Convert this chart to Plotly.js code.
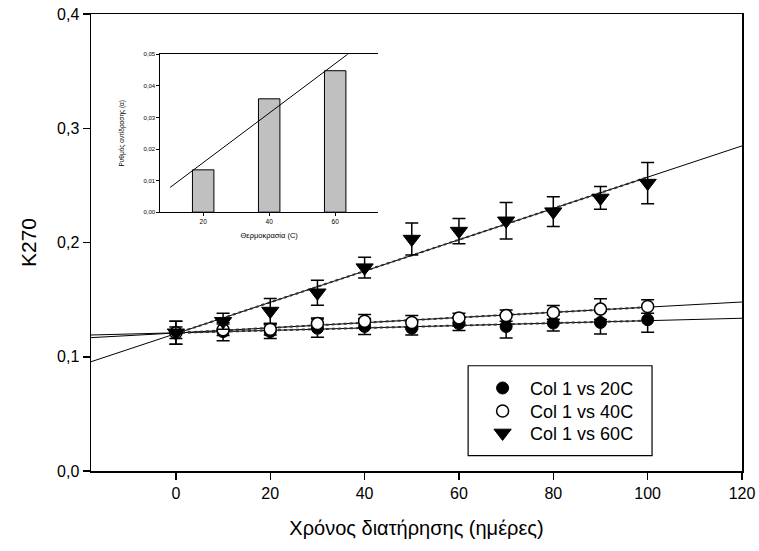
<!DOCTYPE html>
<html>
<head>
<meta charset="utf-8">
<script src="https://cdn.plot.ly/plotly-3.0.1.min.js"></script>
<style>html,body{margin:0;padding:0;background:#fff}#chart{width:759px;height:551px}</style>
</head>
<body>
<div id="chart"></div>
<script>
// ---- data ----
const days = [0, 10, 20, 30, 40, 50, 60, 70, 80, 90, 100];
const k20 = [0.121, 0.122, 0.122, 0.125, 0.1265, 0.125, 0.129, 0.1265, 0.1295, 0.130, 0.1324];
const err20 = [0.010, 0.008, 0.006, 0.008, 0.007, 0.006, 0.006, 0.010, 0.007, 0.010, 0.011];
const k40 = [0.121, 0.1236, 0.124, 0.129, 0.131, 0.130, 0.134, 0.136, 0.1388, 0.1417, 0.144];
const err40 = [0.005, 0.005, 0.005, 0.005, 0.006, 0.006, 0.004, 0.005, 0.006, 0.009, 0.006];
const k60 = [0.121, 0.131, 0.140, 0.156, 0.178, 0.203, 0.210, 0.219, 0.227, 0.239, 0.252];
const err60 = [0.010, 0.007, 0.011, 0.011, 0.009, 0.014, 0.011, 0.016, 0.013, 0.010, 0.018];
const seriesNames = ["Col 1 vs 20C", "Col 1 vs 40C", "Col 1 vs 60C"];
const fitExtent = [-18, 120];

const insetTemps = [20, 40, 60];
const insetRates = [0.0134, 0.0359, 0.0448];
const insetFitExtent = [10, 70];

const xTicks = [0, 20, 40, 60, 80, 100, 120];
const yTicks = [0, 0.1, 0.2, 0.3, 0.4];
const insetYTicks = [0, 0.01, 0.02, 0.03, 0.04, 0.05];

// ---- helpers ----
function linFit(x, y) {
  const n = x.length;
  const mx = x.reduce((a, b) => a + b, 0) / n;
  const my = y.reduce((a, b) => a + b, 0) / n;
  let sxy = 0, sxx = 0;
  for (let i = 0; i < n; i++) { sxy += (x[i] - mx) * (y[i] - my); sxx += (x[i] - mx) ** 2; }
  const b = sxy / sxx;
  return { a: my - b * mx, b };
}
function originFit(x, y) {
  let sxy = 0, sxx = 0;
  for (let i = 0; i < x.length; i++) { sxy += x[i] * y[i]; sxx += x[i] * x[i]; }
  return sxy / sxx;
}

const FONT = "Liberation Sans, Arial, sans-serif";
const traces = [];
const allY = [k20, k40, k60];
const dataRange = [days[0], days[days.length - 1]];
allY.forEach(ys => {
  const f = linFit(days, ys);
  traces.push({
    x: fitExtent, y: fitExtent.map(x => f.a + f.b * x),
    mode: "lines", line: { color: "black", width: 1 }, showlegend: false, hoverinfo: "skip",
    xaxis: "x", yaxis: "y"
  });
  traces.push({
    x: dataRange, y: dataRange.map(x => f.a + f.b * x),
    mode: "lines", line: { color: "#333", width: 2, dash: "dot" }, showlegend: false, hoverinfo: "skip",
    xaxis: "x", yaxis: "y"
  });
});

const errStyle = { type: "data", color: "black", thickness: 1.5, width: 6.5, visible: true };
traces.push({
  x: days, y: k20, name: seriesNames[0], mode: "markers", legend: "legend",
  marker: { symbol: "circle", size: 12, color: "black", line: { color: "black", width: 1 } },
  error_y: Object.assign({ array: err20 }, errStyle), xaxis: "x", yaxis: "y"
});
traces.push({
  x: days, y: k40, name: seriesNames[1], mode: "markers", legend: "legend2",
  marker: { symbol: "circle", size: 12, color: "white", line: { color: "black", width: 1.5 } },
  error_y: Object.assign({ array: err40 }, errStyle), xaxis: "x", yaxis: "y"
});
traces.push({
  x: days, y: k60, name: seriesNames[2], mode: "markers", legend: "legend3",
  marker: { symbol: "triangle-down", size: 15, color: "black", line: { color: "black", width: 1 } },
  error_y: Object.assign({ array: err60 }, errStyle), xaxis: "x", yaxis: "y"
});

// inset
traces.push({
  type: "bar", x: insetTemps, y: insetRates, width: 6.5,
  marker: { color: "#c0c0c0", line: { color: "black", width: 1 } },
  showlegend: false, xaxis: "x2", yaxis: "y2", hoverinfo: "skip"
});
const slope = originFit(insetTemps, insetRates);
traces.push({
  x: insetFitExtent, y: insetFitExtent.map(x => slope * x),
  mode: "lines", line: { color: "black", width: 1 }, showlegend: false, xaxis: "x2", yaxis: "y2",
  hoverinfo: "skip"
});

const legendBase = {
  x: 0.590, xanchor: "left", yanchor: "top",
  bgcolor: "rgba(0,0,0,0)", borderwidth: 0,
  font: { family: FONT, size: 18, color: "black" },
  itemwidth: 45
};

const layout = {
  width: 759, height: 551,
  margin: { l: 91, r: 17, t: 14, b: 80 },
  paper_bgcolor: "white", plot_bgcolor: "rgba(0,0,0,0)",
  separators: ", ",
  font: { family: FONT, color: "black", size: 16 },
  showlegend: true,
  legend: Object.assign({ y: 0.2215 }, legendBase),
  legend2: Object.assign({ y: 0.1712 }, legendBase),
  legend3: Object.assign({ y: 0.1231 }, legendBase),
  xaxis: {
    domain: [0, 1], range: [-18, 120], tickvals: xTicks, ticktext: xTicks.map(String),
    ticks: "outside", ticklen: 7, tickwidth: 1.5, tickcolor: "black",
    showline: true, linewidth: 1.5, linecolor: "black", mirror: true,
    showgrid: false, zeroline: false,
    tickfont: { family: FONT, size: 16 },
    title: { text: "Χρόνος διατήρησης (ημέρες)", font: { family: FONT, size: 20 }, standoff: 20 }
  },
  yaxis: {
    domain: [0, 1], range: [0, 0.4], tickvals: yTicks, tickformat: ".1f",
    ticks: "outside", ticklen: 7, tickwidth: 1.5, tickcolor: "black",
    showline: true, linewidth: 1.5, linecolor: "black", mirror: true,
    showgrid: false, zeroline: false,
    tickfont: { family: FONT, size: 16 },
    title: { text: "K270", font: { family: FONT, size: 21 }, standoff: 14 }
  },
  xaxis2: {
    domain: [0.1064, 0.441], range: [7, 73], anchor: "y2", tickvals: insetTemps,
    ticks: "outside", ticklen: 3, tickwidth: 1, tickcolor: "black",
    showline: true, linewidth: 1, linecolor: "black", mirror: true,
    showgrid: false, zeroline: false,
    tickfont: { family: FONT, size: 6.5, color: "black" },
    title: { text: "Θερμοκρασία (C)", font: { family: FONT, size: 7.5 }, standoff: 8 }
  },
  yaxis2: {
    domain: [0.5664, 0.9118], range: [0, 0.05], anchor: "x2", tickvals: insetYTicks, tickformat: ".2f",
    ticks: "outside", ticklen: 3, tickwidth: 1, tickcolor: "black",
    showline: true, linewidth: 1, linecolor: "black", mirror: false,
    showgrid: false, zeroline: false,
    tickfont: { family: FONT, size: 6, color: "black" },
    title: { text: "Ρυθμός αντίδρασης (α)", font: { family: FONT, size: 6.5 }, standoff: 18 }
  },
  shapes: [{
    type: "rect", xref: "paper", yref: "paper",
    x0: 0.5793, x1: 0.8618, y0: 0.0335, y1: 0.2303,
    line: { color: "black", width: 1.2 }, fillcolor: "rgba(0,0,0,0)"
  }],
  bargap: 0
};

Plotly.newPlot("chart", traces, layout, { displayModeBar: false, staticPlot: true });
</script>
</body>
</html>
